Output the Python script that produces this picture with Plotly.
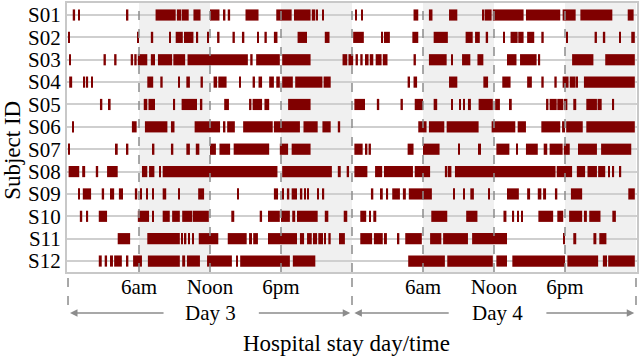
import plotly.graph_objects as go

# activity bouts per subject, (start, end) in hours since midnight of day 3
S01 = [(0.4, 0.6), (0.85, 1.0), (4.9, 5.1), (7.4, 9.1), (9.2, 9.55), (9.6, 10.2), (10.6, 11.2),
       (12.0, 12.8), (13.1, 13.3), (13.5, 13.7), (15.0, 16.1), (17.6, 18.9), (19.1, 20.5),
       (20.6, 20.9), (21.0, 21.1), (21.5, 21.6), (24.3, 24.4), (24.8, 24.9), (29.2, 29.6),
       (30.5, 30.8), (32.2, 32.9), (35.0, 35.1), (35.2, 35.8), (35.9, 38.5), (38.7, 41.6),
       (41.8, 42.9), (43.3, 46.0), (47.3, 47.8)]
S02 = [(0.05, 0.15), (5.9, 6.0), (7.0, 7.2), (8.6, 8.7), (9.1, 9.7), (9.8, 10.6), (10.9, 11.0),
       (11.8, 11.9), (12.6, 12.8), (13.9, 14.1), (14.7, 14.9), (16.0, 16.1), (16.6, 16.8),
       (17.4, 17.7), (19.4, 20.2), (21.7, 22.1), (24.1, 25.0), (26.5, 26.6), (26.7, 27.2),
       (29.1, 29.6), (30.9, 32.1), (33.6, 34.2), (34.4, 34.8), (35.3, 35.5), (36.8, 36.9),
       (37.4, 38.0), (38.05, 38.5), (38.8, 39.4), (40.0, 40.2), (42.1, 42.2), (44.5, 44.7),
       (45.2, 45.4), (46.6, 46.7), (47.6, 47.9)]
S03 = [(0.1, 0.25), (3.0, 3.2), (3.9, 4.1), (5.3, 5.5), (5.6, 5.8), (5.9, 6.7), (7.0, 7.35),
       (7.6, 8.8), (8.9, 9.9), (10.1, 15.2), (15.4, 15.6), (15.9, 17.9), (18.1, 20.5),
       (23.2, 23.6), (23.7, 24.1), (24.3, 24.5), (24.7, 24.9), (25.1, 25.4), (25.5, 25.8),
       (26.0, 26.5), (26.6, 27.0), (29.2, 29.4), (30.5, 32.0), (32.4, 32.5), (33.3, 34.0),
       (34.6, 35.1), (37.1, 37.9), (38.2, 39.6), (39.8, 39.9), (42.6, 44.4), (45.4, 47.9)]
S04 = [(0.1, 0.35), (1.3, 1.45), (1.6, 1.7), (2.0, 2.1), (6.7, 7.2), (7.8, 8.0), (9.3, 9.4),
       (10.0, 10.3), (11.2, 11.4), (12.3, 12.6), (12.7, 13.4), (14.5, 14.6), (15.6, 15.8),
       (16.1, 16.4), (17.0, 17.4), (17.6, 17.9), (18.1, 19.0), (19.2, 21.5), (21.6, 22.2),
       (28.7, 28.9), (29.2, 29.5), (32.2, 32.9), (35.1, 35.5), (36.7, 37.4), (38.8, 39.2),
       (40.0, 40.2), (41.1, 41.3), (41.8, 42.3), (42.4, 42.9), (43.0, 43.1), (43.6, 47.9)]
S05 = [(2.7, 2.9), (3.45, 3.6), (6.4, 6.7), (6.8, 7.35), (8.9, 9.05), (9.6, 10.9), (11.15, 11.35),
       (13.2, 13.6), (15.3, 15.5), (15.6, 16.4), (16.6, 17.0), (18.6, 20.5), (24.2, 25.1),
       (26.1, 26.3), (28.1, 28.3), (29.3, 30.0), (30.9, 31.2), (32.4, 32.5), (33.05, 33.2),
       (33.4, 33.55), (33.8, 34.05), (34.7, 35.9), (36.1, 36.5), (37.35, 37.5), (40.4, 40.6),
       (40.7, 41.3), (41.35, 41.85), (41.9, 42.2), (42.7, 42.95), (43.8, 44.7), (44.75, 45.1),
       (46.0, 46.15)]
S06 = [(0.35, 0.5), (5.4, 5.8), (6.5, 8.4), (8.7, 9.0), (10.7, 12.85), (13.1, 13.3), (13.45, 14.1),
       (14.8, 17.3), (17.4, 19.6), (19.9, 21.1), (21.5, 22.2), (22.8, 23.0), (29.6, 30.3),
       (30.5, 31.8), (32.0, 34.7), (35.8, 37.8), (38.0, 38.7), (40.0, 41.6), (41.75, 42.0),
       (42.1, 43.5), (43.8, 47.9)]
S07 = [(0.05, 0.15), (4.05, 4.2), (4.9, 5.1), (7.1, 7.3), (8.7, 8.9), (10.0, 10.3), (10.8, 11.1),
       (12.0, 12.5), (12.8, 13.7), (14.0, 17.0), (17.9, 18.6), (18.9, 20.5), (24.2, 24.9),
       (25.1, 25.3), (25.4, 25.6), (28.7, 29.2), (30.0, 31.4), (33.0, 33.1), (34.65, 34.9),
       (36.2, 37.3), (37.9, 38.0), (38.7, 39.7), (40.2, 40.5), (40.7, 41.8), (41.9, 42.4),
       (43.1, 44.7), (45.05, 47.6)]
S08 = [(0.05, 0.95), (1.2, 1.45), (2.35, 2.55), (3.3, 4.2), (6.25, 6.7), (6.85, 7.3), (7.7, 7.85),
       (8.0, 17.7), (18.1, 22.3), (22.8, 23.05), (23.55, 23.75), (24.2, 25.3), (25.95, 26.55),
       (26.7, 29.15), (29.3, 30.6), (31.85, 32.05), (32.1, 32.4), (32.7, 41.2), (41.3, 42.6),
       (43.0, 43.7), (43.9, 44.7), (44.8, 45.4), (45.65, 45.8), (46.05, 46.15), (46.6, 46.75)]
S09 = [(0.85, 1.0), (1.25, 1.95), (2.85, 3.05), (3.55, 3.9), (4.3, 4.65), (5.65, 5.85), (6.1, 6.25),
       (6.6, 6.75), (7.1, 7.2), (8.0, 8.3), (9.3, 9.45), (11.0, 11.5), (14.3, 14.45), (17.4, 17.75),
       (18.1, 18.25), (18.5, 18.7), (18.9, 19.35), (19.6, 19.8), (19.95, 20.1), (20.2, 20.35),
       (21.05, 21.2), (21.5, 21.65), (25.6, 25.8), (26.45, 26.6), (26.9, 27.05), (27.4, 28.05),
       (28.3, 28.55), (28.8, 30.75), (32.55, 32.7), (33.4, 33.55), (34.0, 34.3), (35.5, 35.65),
       (37.1, 38.1), (38.8, 39.05), (39.7, 40.0), (40.15, 40.4), (41.15, 41.35), (42.5, 43.45),
       (47.35, 47.9)]
S10 = [(1.0, 1.2), (1.6, 1.7), (2.6, 3.3), (5.9, 6.85), (7.1, 7.25), (8.0, 8.6), (8.8, 9.45),
       (9.65, 10.5), (10.55, 11.9), (13.8, 14.05), (16.2, 16.4), (16.9, 17.9), (18.0, 18.75),
       (18.95, 19.2), (19.35, 21.1), (21.7, 22.0), (23.3, 23.6), (24.7, 25.2), (25.45, 25.6),
       (25.8, 26.05), (30.7, 32.05), (33.65, 34.6), (36.8, 37.05), (37.55, 37.7), (37.95, 38.1),
       (38.3, 38.45), (39.75, 41.0), (41.35, 41.85), (42.35, 43.45), (43.6, 43.85), (44.05, 45.0),
       (46.0, 46.3)]
S11 = [(4.2, 5.25), (6.7, 9.45), (9.55, 9.7), (9.8, 10.0), (10.15, 10.3), (10.55, 10.65),
       (11.05, 12.7), (13.5, 15.1), (15.3, 15.55), (15.65, 16.05), (16.9, 19.35), (19.6, 19.95),
       (20.2, 20.6), (20.7, 21.05), (21.15, 21.55), (21.65, 21.8), (22.0, 22.2), (22.9, 23.4),
       (24.7, 25.7), (25.85, 26.6), (26.7, 26.95), (27.8, 28.0), (28.5, 29.9), (30.6, 31.55),
       (31.7, 33.8), (34.15, 37.1), (41.85, 42.0), (42.7, 42.95), (44.4, 44.65), (44.9, 45.5)]
S12 = [(2.6, 2.85), (3.1, 3.3), (3.55, 3.8), (3.9, 4.55), (4.9, 5.1), (5.5, 6.25), (6.75, 9.45),
       (9.65, 9.9), (10.05, 11.15), (11.75, 13.85), (14.2, 14.3), (14.55, 18.75), (19.0, 20.9),
       (28.75, 31.85), (32.05, 35.9), (36.2, 37.1), (37.55, 42.0), (42.2, 44.8), (45.2, 45.55),
       (45.65, 47.9)]

subjects = ["S01", "S02", "S03", "S04", "S05", "S06", "S07", "S08", "S09", "S10", "S11", "S12"]
bouts = [S01, S02, S03, S04, S05, S06, S07, S08, S09, S10, S11, S12]

tick_hours = [6, 12, 18, 30, 36, 42]
tick_labels = ["6am", "Noon", "6pm", "6am", "Noon", "6pm"]
shaded = [(6, 12), (18, 24), (30, 36), (42, 48)]
days = [("Day 3", 12, 0.17, 8.2, 16.0, 23.85), ("Day 4", 36.3, 24.2, 32.3, 40.3, 47.85)]

FONT = "Liberation Serif"
RED = "#800000"
GREY = "#8c8c8c"

ys, bases, lengths = [], [], []
for name, segs in zip(subjects, bouts):
    for start, end in segs:
        ys.append(name)
        bases.append(start)
        lengths.append(end - start)

fig = go.Figure(
    go.Bar(
        y=ys,
        x=lengths,
        base=bases,
        orientation="h",
        width=0.5,
        marker=dict(color=RED, line=dict(width=0)),
        showlegend=False,
    )
)

for x0, x1 in shaded:
    fig.add_vrect(x0=x0, x1=x1, fillcolor="#f0f0f0", line_width=0, layer="below")

for h in [6, 12, 18, 24, 30, 36, 42]:
    fig.add_vline(x=h, line=dict(color=GREY, width=1.5, dash="dash"), layer="above")

# dashed day separators below the axis
for h in [0, 24, 48]:
    fig.add_shape(type="line", xref="x", yref="paper", x0=h, x1=h, y0=-0.022, y1=-0.15,
                  line=dict(color=GREY, width=1.5, dash="dash"))

for label, xc, l0, l1, r0, r1 in days:
    fig.add_annotation(x=xc, y=-0.152, xref="x", yref="paper", text=label, showarrow=False,
                       xanchor="center", yanchor="middle",
                       font=dict(family=FONT, size=21, color="black"))
    for tip, tail in [(l0, l1), (r1, r0)]:
        fig.add_annotation(x=tip, y=-0.152, xref="x", yref="paper", ax=tail, ay=0,
                           axref="x", ayref="pixel", text="", showarrow=True,
                           arrowhead=2, arrowsize=1, arrowwidth=1.5, arrowcolor=GREY)

fig.add_annotation(x=0.49, y=-0.264, xref="paper", yref="paper", text="Hospital stay day/time",
                   showarrow=False, xanchor="center", yanchor="middle",
                   font=dict(family=FONT, size=23, color="black"))
fig.add_annotation(x=-0.097, y=0.453, xref="paper", yref="paper", text="Subject ID",
                   textangle=-90, showarrow=False, xanchor="center", yanchor="middle",
                   font=dict(family=FONT, size=23, color="black"))

fig.update_layout(
    width=640,
    height=357,
    margin=dict(l=67, r=3, t=3, b=85, autoexpand=False),
    paper_bgcolor="white",
    plot_bgcolor="white",
    barmode="overlay",
    font=dict(family=FONT, size=21, color="black"),
)
fig.update_xaxes(
    range=[-0.085, 48.085],
    tickmode="array",
    tickvals=tick_hours,
    ticktext=tick_labels,
    showgrid=False,
    zeroline=False,
    showline=True,
    mirror=True,
    linecolor="#c8c8c8",
    linewidth=2,
    ticks="",
    ticklabelstandoff=-5,
    automargin=False,
    tickfont=dict(family=FONT, size=21, color="black"),
)
fig.update_yaxes(
    categoryorder="array",
    categoryarray=subjects,
    tickmode="array",
    tickvals=subjects,
    ticktext=subjects,
    range=[11.49, -0.537],
    showgrid=True,
    gridcolor="#cfcfcf",
    gridwidth=1.5,
    showline=True,
    mirror=True,
    linecolor="#c8c8c8",
    linewidth=2,
    ticks="",
    automargin=False,
    tickfont=dict(family=FONT, size=21, color="black"),
)

fig.write_html("out.html", config={"displayModeBar": False},
               post_script="document.body.style.margin = '0';")
